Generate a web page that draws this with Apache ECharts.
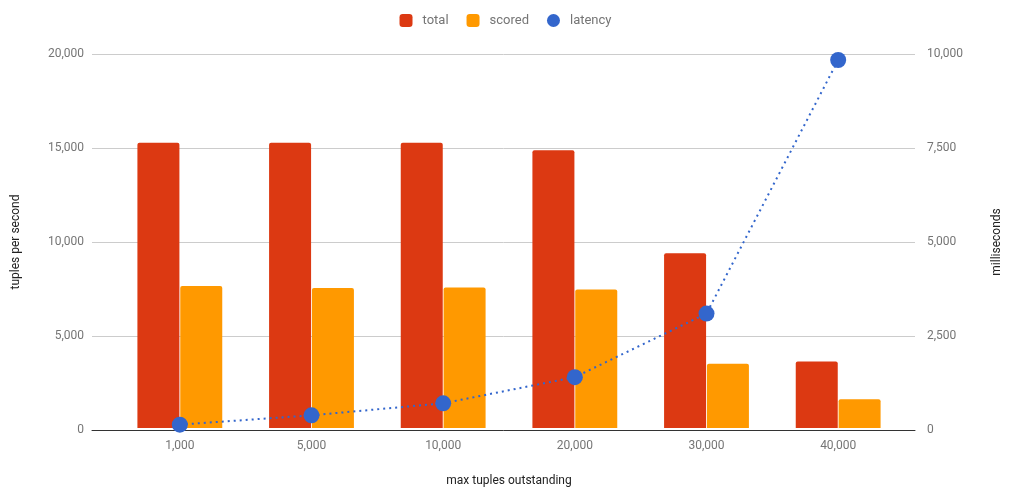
<!DOCTYPE html>
<html>
<head>
<meta charset="utf-8">
<script src="https://cdn.jsdelivr.net/npm/echarts@6/dist/echarts.min.js"></script>
<style>
  html, body { margin: 0; padding: 0; background: #fff; }
  #chart { width: 1011px; height: 492px; }
</style>
</head>
<body>
<div id="chart"></div>
<script>
// Throughput and latency against the max number of outstanding tuples
const categories = ['1,000', '5,000', '10,000', '20,000', '30,000', '40,000'];
const totalValues = [15250, 15250, 15250, 14850, 9350, 3550];
const scoredValues = [7600, 7480, 7520, 7410, 3440, 1540];
const latencyValues = [90, 340, 660, 1360, 3060, 9840];
const leftTicks = [0, 5000, 10000, 15000, 20000];
const rightTicks = [0, 2500, 5000, 7500, 10000];

const FONT = 'Roboto';
const AXIS_TEXT = '#757575';
const fmt = v => v.toLocaleString('en-US');

const chart = echarts.init(document.getElementById('chart'), null, { renderer: 'canvas' });

chart.setOption({
  backgroundColor: '#ffffff',
  animation: false,
  legend: {
    top: 9,
    left: 'center',
    itemWidth: 13,
    itemHeight: 13,
    itemGap: 18,
    textStyle: { fontFamily: FONT, fontSize: 13, color: '#757575', padding: [0, 0, 0, 5] },
    data: [
      { name: 'total', icon: 'roundRect' },
      { name: 'scored', icon: 'roundRect' },
      { name: 'latency', icon: 'circle' }
    ]
  },
  grid: [
    // frame for gridlines and value axes
    { left: 92, right: 83, top: 54, bottom: 62 },
    // plotting area for the categories
    { left: 114, right: 107, top: 54, bottom: 62 }
  ],
  xAxis: [
    {
      gridIndex: 0, type: 'value', min: 0, max: 1,
      axisLine: { show: true, lineStyle: { color: '#333', width: 1 } },
      axisTick: { show: false }, axisLabel: { show: false }, splitLine: { show: false }
    },
    {
      gridIndex: 1, type: 'category', data: categories,
      axisLine: { show: false }, axisTick: { show: false },
      axisLabel: { fontFamily: FONT, fontSize: 12, color: AXIS_TEXT, margin: 12 },
      name: 'max tuples outstanding', nameLocation: 'middle', nameGap: 47,
      nameTextStyle: { fontFamily: FONT, fontSize: 12, color: '#222' }
    }
  ],
  yAxis: [
    {
      gridIndex: 0, type: 'value', position: 'left',
      min: leftTicks[0], max: leftTicks[leftTicks.length - 1], interval: 5000,
      axisLine: { show: false }, axisTick: { show: false },
      axisLabel: { fontFamily: FONT, fontSize: 12, color: AXIS_TEXT, margin: 8, formatter: fmt },
      splitLine: { lineStyle: { color: '#cccccc', width: 1 } },
      name: 'tuples per second', nameLocation: 'middle', nameGap: 70, nameRotate: 90,
      nameTextStyle: { fontFamily: FONT, fontSize: 12, color: '#222' }
    },
    {
      gridIndex: 0, type: 'value', position: 'right',
      min: rightTicks[0], max: rightTicks[rightTicks.length - 1], interval: 2500,
      axisLine: { show: false }, axisTick: { show: false },
      axisLabel: { fontFamily: FONT, fontSize: 12, color: AXIS_TEXT, margin: 12, formatter: fmt },
      splitLine: { show: false },
      name: 'milliseconds', nameLocation: 'middle', nameGap: 76, nameRotate: 90,
      nameTextStyle: { fontFamily: FONT, fontSize: 12, color: '#222' }
    },
    {
      gridIndex: 1, type: 'value', min: 0, max: 20000, show: false
    },
    {
      gridIndex: 1, type: 'value', min: 0, max: 10000, show: false
    }
  ],
  series: [
    {
      name: 'total', type: 'bar', xAxisIndex: 1, yAxisIndex: 2,
      data: totalValues, barWidth: 42, barGap: '2%',
      itemStyle: { color: '#dc3912', borderRadius: [2, 2, 0, 0] }
    },
    {
      name: 'scored', type: 'bar', xAxisIndex: 1, yAxisIndex: 2,
      data: scoredValues, barWidth: 42, barGap: '2%',
      itemStyle: { color: '#ff9900', borderRadius: [2, 2, 0, 0] }
    },
    {
      name: 'latency', type: 'line', xAxisIndex: 1, yAxisIndex: 3,
      data: latencyValues, symbol: 'circle', symbolSize: 16,
      lineStyle: { color: '#3366cc', width: 2, type: [2, 4] },
      itemStyle: { color: '#3366cc' },
      z: 5
    }
  ]
});
</script>
</body>
</html>
